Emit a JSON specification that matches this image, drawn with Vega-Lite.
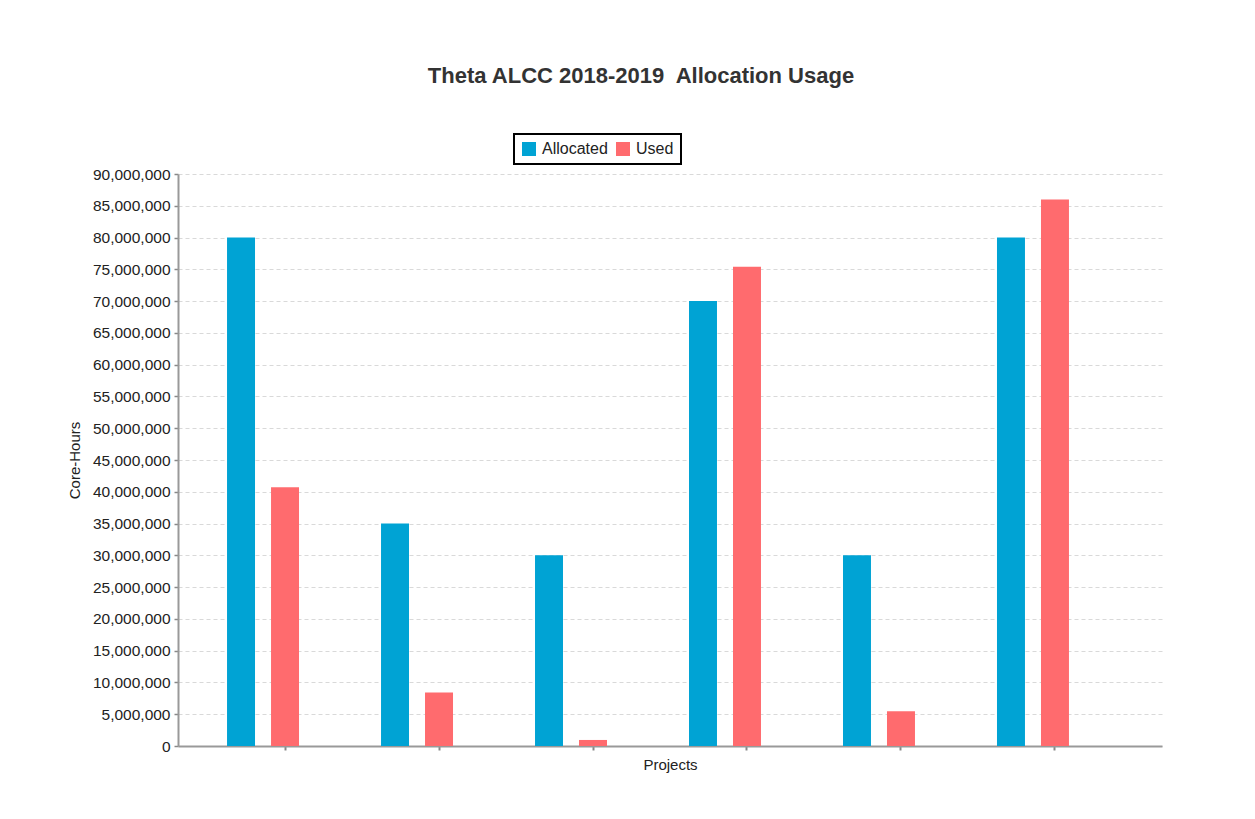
{
  "$schema": "https://vega.github.io/schema/vega-lite/v6.json",
  "autosize": {"type": "none"},
  "width": 984,
  "height": 572,
  "padding": {"left": 178, "top": 174, "right": 93, "bottom": 73},
  "background": "#ffffff",
  "title": {
    "text": "Theta ALCC 2018-2019\u00a0 Allocation Usage",
    "font": "Liberation Sans",
    "fontSize": 22,
    "fontWeight": "bold",
    "color": "#333333",
    "anchor": "middle",
    "dx": -29,
    "offset": 45
  },
  "data": {
    "values": [
      {"project": "Project 1", "series": "Allocated", "hours": 80000000},
      {"project": "Project 1", "series": "Used", "hours": 40700000},
      {"project": "Project 2", "series": "Allocated", "hours": 35000000},
      {"project": "Project 2", "series": "Used", "hours": 8400000},
      {"project": "Project 3", "series": "Allocated", "hours": 30000000},
      {"project": "Project 3", "series": "Used", "hours": 950000},
      {"project": "Project 4", "series": "Allocated", "hours": 70000000},
      {"project": "Project 4", "series": "Used", "hours": 75400000},
      {"project": "Project 5", "series": "Allocated", "hours": 30000000},
      {"project": "Project 5", "series": "Used", "hours": 5450000},
      {"project": "Project 6", "series": "Allocated", "hours": 80000000},
      {"project": "Project 6", "series": "Used", "hours": 86000000}
    ]
  },
  "mark": {"type": "bar"},
  "encoding": {
    "x": {
      "field": "project",
      "type": "nominal",
      "sort": null,
      "scale": {"paddingInner": 0, "paddingOuter": 0.195},
      "axis": {
        "title": "Projects",
        "labels": false,
        "ticks": true,
        "tickSize": 4,
        "tickColor": "#888888",
        "tickWidth": 2,
        "domainColor": "#999999",
        "domainWidth": 2,
        "titleFont": "Liberation Sans",
        "titleFontSize": 15,
        "titleFontWeight": "normal",
        "titleColor": "#222222",
        "titlePadding": 6
      }
    },
    "xOffset": {
      "field": "series",
      "type": "nominal",
      "scale": {"domain": ["Allocated", "Used", "Spare"], "paddingInner": 0.364, "paddingOuter": 0.432}
    },
    "y": {
      "field": "hours",
      "type": "quantitative",
      "scale": {"domain": [0, 90000000], "nice": false},
      "axis": {
        "title": "Core-Hours",
        "values": [0, 5000000, 10000000, 15000000, 20000000, 25000000, 30000000, 35000000, 40000000, 45000000, 50000000, 55000000, 60000000, 65000000, 70000000, 75000000, 80000000, 85000000, 90000000],
        "format": ",d",
        "labelFont": "Liberation Sans",
        "labelFontSize": 15.5,
        "labelColor": "#222222",
        "labelPadding": 4,
        "tickSize": 4,
        "tickColor": "#888888",
        "tickWidth": 1.5,
        "domainColor": "#999999",
        "domainWidth": 2,
        "grid": true,
        "gridColor": "#d9d9d9",
        "gridDash": [4, 3],
        "gridWidth": 1,
        "titleFont": "Liberation Sans",
        "titleFontSize": 15,
        "titleFontWeight": "normal",
        "titleColor": "#222222",
        "titlePadding": 10
      }
    },
    "color": {
      "field": "series",
      "type": "nominal",
      "scale": {"domain": ["Allocated", "Used"], "range": ["#00a3d4", "#ff6b6e"]},
      "legend": {
        "title": null,
        "orient": "none",
        "legendX": 336,
        "legendY": -40,
        "direction": "horizontal",
        "columns": 2,
        "gridAlign": "all",
        "symbolType": "square",
        "symbolSize": 196,
        "symbolStrokeWidth": 0,
        "labelFont": "Liberation Sans",
        "labelFontSize": 16,
        "labelColor": "#222222",
        "labelOffset": 5,
        "labelExpr": "datum.label == 'Used' ? 'Used\u2003\u2003' : datum.label",
        "columnPadding": 7,
        "strokeColor": "#000000",
        "padding": 7,
        "fillColor": "#ffffff",
        "encode": {
          "legend": {"update": {"strokeWidth": {"value": 2}}}
        }
      }
    }
  },
  "config": {
    "view": {"stroke": null}
  }
}
